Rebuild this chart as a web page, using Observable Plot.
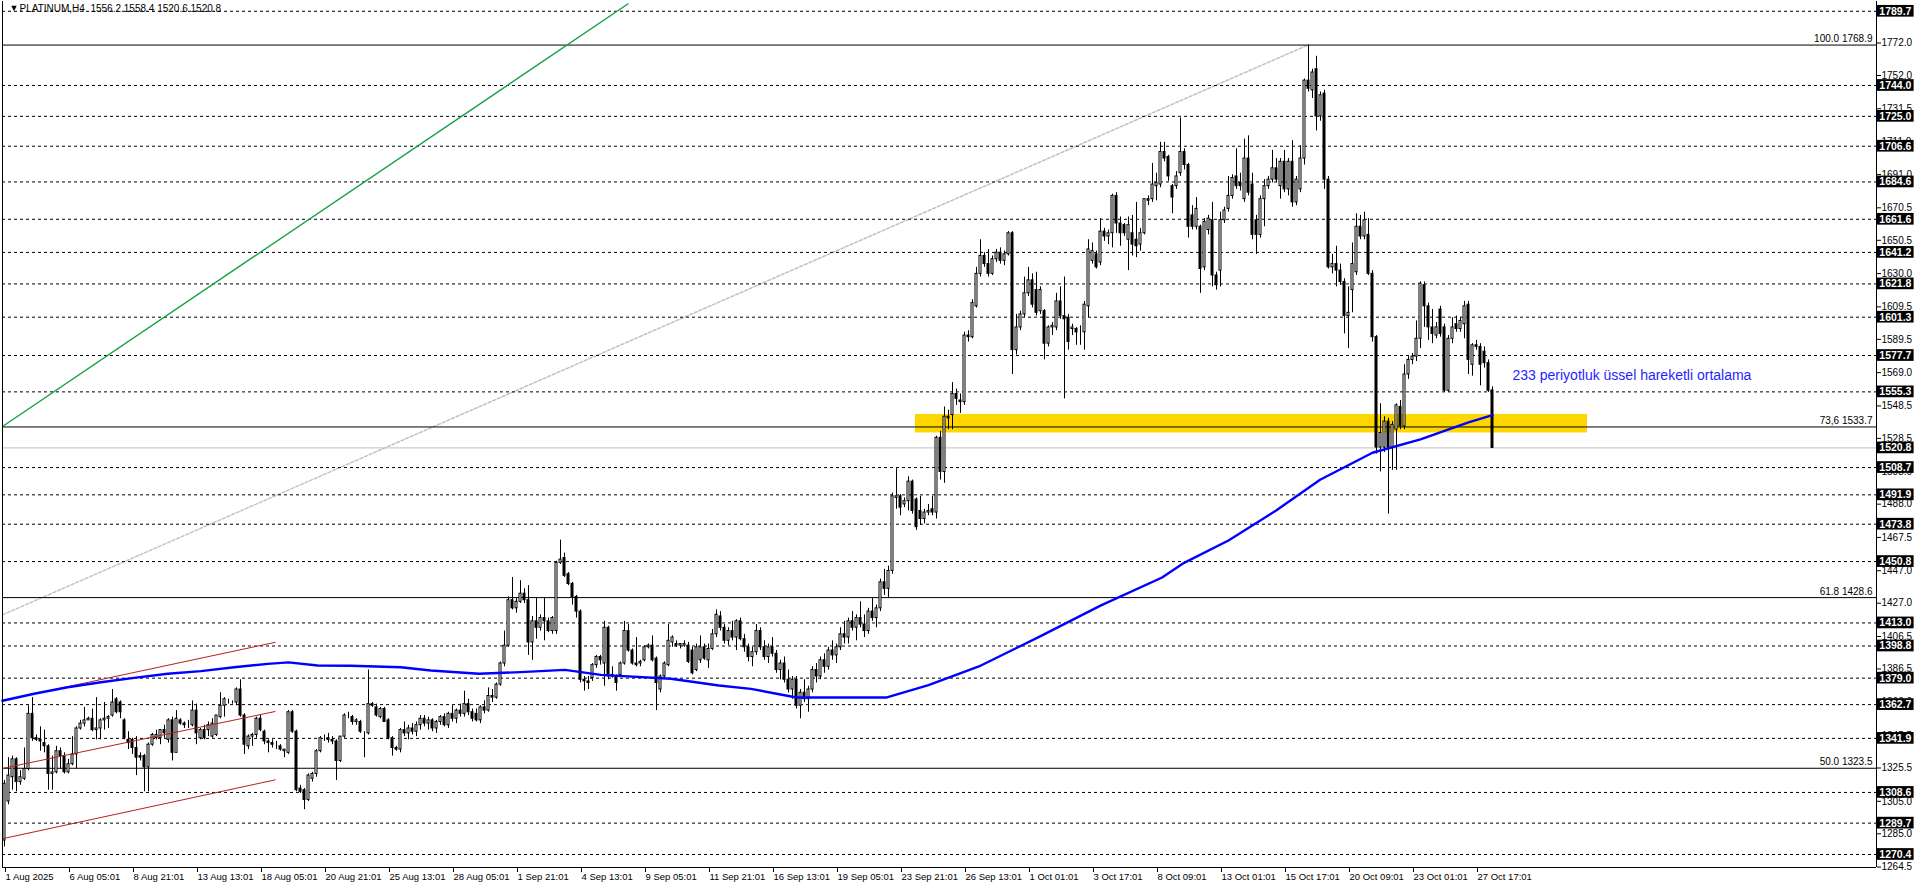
<!DOCTYPE html>
<html><head><meta charset="utf-8">
<script src="https://cdn.jsdelivr.net/npm/d3@7"></script>
<script src="https://cdn.jsdelivr.net/npm/@observablehq/plot@0.6"></script>
<style>html,body{margin:0;padding:0;background:#fff;overflow:hidden}</style>
</head><body><div id="chart"></div>
<script>
// H4 candles [open, high, low, close], bar index = position in the concatenated list
const candlesAug = [
[1279,1316,1275,1314],[1303,1330,1301,1319],[1318,1331,1310,1329],[1329,1330,1309,1315],[1315,1322,1313,1318],
[1317,1336,1316,1323],[1323,1362,1322,1357],[1357,1367,1340,1342],[1342,1344,1340,1341],[1341,1349,1334,1340],
[1339,1347,1333,1337],[1337,1338,1310,1320],[1320,1331,1310,1321],[1321,1337,1320,1334],[1334,1336,1323,1331],
[1331,1333,1320,1321],[1321,1329,1320,1326],[1326,1343,1325,1332],[1332,1349,1323,1348],[1348,1353,1347,1351],
[1351,1361,1349,1353],[1353,1355,1353,1354],[1354,1360,1346,1347],[1347,1367,1341,1348],[1348,1354,1341,1353],
[1353,1364,1347,1354],[1354,1356,1348,1355],[1356,1372,1355,1364],[1366,1367,1357,1358],[1364,1365,1354,1358],
[1353,1354,1341,1342],[1341,1346,1335,1339],[1341,1342,1332,1336],[1336,1343,1319,1330],[1331,1333,1328,1330],
[1331,1332,1309,1324],[1324,1339,1309,1338],[1338,1345,1337,1344],[1342,1347,1341,1344],[1342,1347,1338,1347],
[1347,1350,1342,1345],[1341,1354,1339,1353],[1353,1355,1328,1333],[1333,1359,1333,1354],[1353,1354,1350,1351],
[1351,1352,1348,1350],[1350,1353,1348,1350],[1350,1365,1349,1359],[1359,1363,1338,1345],[1342,1348,1341,1347],
[1347,1350,1341,1342],[1347,1352,1343,1350],[1343,1354,1342,1351],[1344,1356,1343,1356],[1355,1370,1354,1362],
[1362,1367,1355,1366],[1364,1366,1363,1364],[1364,1365,1363,1364],[1364,1373,1362,1372],[1372,1378,1355,1356],
[1356,1357,1332,1338],[1337,1344,1335,1343],[1343,1345,1337,1344],[1344,1355,1342,1354],[1354,1356,1346,1347],
[1346,1347,1338,1340],[1340,1341,1333,1339],[1339,1341,1336,1338],[1338,1340,1335,1338],[1337,1338,1334,1335],
[1334,1335,1330,1335],[1333,1359,1332,1358],[1358,1359,1345,1346],[1346,1347,1309,1310],[1311,1313,1308,1309],
[1310,1311,1298,1304],[1304,1320,1303,1319],[1317,1321,1315,1320],[1320,1335,1318,1334],[1334,1343,1333,1342],
[1342,1344,1340,1342],[1342,1345,1339,1341],[1341,1343,1338,1340],[1340,1341,1316,1328],[1328,1343,1327,1343],
[1343,1357,1342,1356],[1356,1358,1354,1356],[1355,1356,1350,1352],[1352,1354,1350,1353],[1352,1353,1345,1346],
[1345,1346,1330,1345],[1345,1384,1344,1363],[1363,1364,1361,1362],[1361,1363,1355,1356],[1355,1361,1354,1360],
[1360,1361,1352,1352],[1353,1354,1341,1342],[1342,1343,1331,1336],[1336,1337,1334,1335],[1335,1348,1333,1347]
];
const candlesLateAug = [
[1347,1352,1343,1345],[1345,1350,1341,1348],[1348,1351,1344,1346],[1346,1352,1343,1350],[1350,1356,1347,1354],
[1354,1356,1349,1351],[1351,1355,1347,1353],[1353,1354,1346,1348],[1348,1353,1345,1352],[1352,1356,1350,1355],
[1355,1357,1349,1350],[1350,1358,1348,1357],[1357,1362,1352,1354],[1354,1360,1351,1359],[1359,1363,1355,1357],
[1357,1371,1355,1363],[1363,1366,1356,1358],[1358,1360,1352,1354],[1357,1360,1352,1353],[1353,1362,1351,1361],
[1361,1365,1357,1359],[1359,1373,1358,1368],[1368,1372,1364,1367],[1367,1376,1366,1375],[1375,1389,1374,1388],
[1388,1408,1386,1399],[1399,1429,1398,1427],[1427,1441,1421,1422],[1422,1428,1419,1426],[1426,1439,1425,1431],
[1431,1434,1425,1427],[1427,1436,1393,1401],[1401,1417,1390,1414],[1414,1428,1403,1410],[1410,1418,1408,1416],
[1416,1428,1402,1414],[1414,1416,1407,1408],[1408,1417,1406,1416],[1408,1451,1406,1450],[1450,1464,1449,1452],
[1453,1456,1441,1442],[1443,1444,1436,1437],[1437,1438,1424,1429],[1429,1430,1416,1420],[1420,1421,1376,1378],
[1378,1380,1371,1377],[1377,1380,1372,1376],[1379,1388,1377,1387],[1387,1393,1385,1392],[1392,1393,1387,1390],
[1388,1414,1374,1410],[1410,1411,1378,1380],[1381,1386,1379,1380],[1380,1381,1371,1376],[1381,1389,1380,1388],
[1388,1414,1387,1408],[1408,1412,1395,1396],[1396,1397,1387,1388],[1388,1404,1386,1387],[1388,1390,1386,1389],
[1390,1399,1389,1398],[1398,1400,1397,1399],[1399,1405,1389,1390],[1391,1392,1359,1376],[1372,1381,1370,1380],
[1380,1389,1379,1388],[1387,1412,1386,1402],[1401,1405,1398,1404],[1400,1402,1398,1399],[1399,1400,1397,1400],
[1399,1402,1398,1400],[1399,1401,1388,1389],[1396,1398,1381,1382],[1384,1400,1383,1398],[1390,1405,1388,1398],
[1398,1400,1390,1391],[1390,1400,1385,1397],[1397,1409,1396,1406],[1406,1421,1404,1418],[1417,1420,1408,1410],
[1410,1412,1400,1402],[1402,1410,1399,1408],[1408,1414,1402,1404],[1404,1415,1396,1414],[1414,1416,1402,1403],
[1403,1406,1395,1398],[1398,1400,1389,1392],[1392,1398,1386,1395],[1395,1412,1393,1408],[1408,1410,1396,1398],
[1398,1402,1390,1392],[1392,1400,1388,1398],[1398,1404,1392,1394],[1394,1396,1382,1384],[1384,1390,1378,1388],
[1388,1392,1376,1378],[1378,1384,1370,1372],[1372,1380,1366,1378],[1378,1380,1360,1362],[1362,1372,1354,1370]
];
const candlesSep = [
[1370,1378,1364,1366],[1366,1374,1358,1372],[1372,1386,1370,1384],[1384,1388,1376,1380],[1380,1392,1378,1390],
[1390,1394,1382,1386],[1386,1398,1384,1396],[1396,1402,1390,1393],[1393,1400,1388,1398],[1398,1410,1396,1406],
[1406,1414,1400,1404],[1404,1416,1400,1414],[1414,1420,1408,1410],[1410,1418,1402,1416],[1416,1426,1410,1412],
[1412,1418,1404,1408],[1408,1422,1406,1420],[1420,1428,1414,1416],[1416,1424,1410,1422],[1422,1440,1420,1438],
[1438,1446,1430,1434],[1434,1448,1428,1445],[1445,1493,1443,1491],[1490,1508,1483,1491],[1491,1492,1479,1484],
[1486,1490,1484,1488],[1488,1503,1482,1500],[1500,1501,1480,1482],[1489,1490,1470,1472],[1482,1491,1473,1477],
[1477,1483,1474,1481],[1481,1486,1479,1482],[1483,1491,1479,1481],[1481,1528,1477,1527],[1527,1531,1501,1506],
[1506,1546,1499,1540],[1540,1544,1532,1539],[1541,1561,1532,1554],[1554,1557,1547,1551],[1550,1554,1542,1549],
[1549,1592,1547,1590],[1590,1593,1586,1589],[1589,1612,1588,1610],[1608,1632,1607,1628],[1628,1649,1626,1639],
[1639,1641,1632,1634],[1634,1643,1626,1628],[1628,1639,1627,1637],[1637,1643,1635,1641],[1641,1644,1634,1636],
[1636,1642,1633,1640],[1640,1654,1639,1653],[1653,1654,1566,1581],[1581,1603,1578,1595],[1595,1605,1593,1603],
[1603,1626,1601,1616],[1616,1632,1614,1624],[1624,1628,1607,1609],[1618,1629,1602,1604],[1605,1620,1603,1618],
[1605,1606,1575,1585],[1585,1596,1583,1595],[1595,1598,1590,1596],[1595,1616,1593,1611],[1611,1620,1600,1602],
[1602,1626,1551,1600],[1601,1603,1581,1586],[1594,1597,1590,1595],[1594,1595,1584,1592],[1592,1596,1584,1592],
[1592,1611,1581,1609],[1608,1649,1601,1643],[1636,1647,1634,1642],[1640,1642,1631,1632],[1635,1662,1633,1654],
[1654,1656,1648,1651],[1651,1655,1646,1653],[1653,1677,1644,1676],[1676,1678,1653,1659],[1659,1663,1645,1653],
[1658,1659,1651,1653],[1649,1663,1630,1658],[1653,1664,1639,1646],[1649,1672,1638,1645],[1646,1656,1642,1653],
[1653,1674,1652,1674],[1674,1676,1670,1673],[1674,1696,1672,1683],[1682,1690,1673,1684],[1683,1709,1681,1703],
[1703,1709,1697,1699],[1700,1701,1685,1688],[1682,1683,1665,1675],[1682,1691,1680,1688],[1690,1724,1688,1703],
[1703,1705,1692,1695],[1695,1696,1650,1657],[1664,1670,1655,1657],[1657,1675,1655,1668],[1657,1658,1616,1631]
];
const candlesOct = [
[1632,1662,1630,1660],[1655,1664,1652,1662],[1661,1672,1620,1627],[1627,1629,1618,1621],[1630,1666,1620,1661],
[1661,1669,1659,1667],[1668,1688,1666,1676],[1676,1689,1674,1687],[1688,1705,1680,1682],[1684,1690,1679,1682],
[1674,1711,1672,1699],[1699,1713,1676,1678],[1683,1690,1649,1652],[1661,1664,1640,1652],[1652,1676,1650,1674],
[1674,1686,1657,1682],[1682,1688,1680,1686],[1686,1704,1684,1693],[1693,1699,1684,1686],[1682,1699,1674,1697],
[1697,1704,1678,1680],[1680,1699,1676,1697],[1697,1710,1669,1672],[1672,1688,1670,1686],[1680,1707,1678,1699],
[1699,1748,1695,1747],[1747,1769,1740,1742],[1741,1754,1736,1752],[1754,1762,1716,1725],[1725,1740,1722,1738],
[1739,1741,1680,1686],[1686,1688,1631,1632],[1632,1640,1628,1634],[1634,1645,1620,1630],[1630,1634,1621,1623],
[1623,1625,1591,1602],[1602,1620,1582,1604],[1618,1647,1604,1634],[1629,1665,1627,1657],[1657,1664,1649,1651],
[1651,1666,1649,1661],[1652,1662,1627,1628],[1628,1630,1586,1589],[1589,1590,1517,1521],[1521,1548,1506,1530],
[1521,1540,1518,1537],[1537,1539,1480,1521],[1521,1537,1507,1535],[1532,1548,1507,1547],[1546,1550,1532,1534],
[1534,1572,1532,1566],[1566,1577,1563,1575],[1575,1579,1572,1577],[1577,1599,1574,1588],[1588,1623,1582,1622],
[1621,1623,1595,1608],[1608,1610,1587,1595],[1595,1606,1585,1591],[1590,1598,1588,1595],[1606,1608,1589,1591],
[1595,1597,1555,1556],[1556,1590,1555,1588],[1588,1601,1585,1595],[1597,1602,1592,1594],[1594,1601,1592,1599],
[1597,1611,1588,1608],[1609,1611,1566,1575],[1572,1585,1565,1584],[1584,1587,1581,1583],[1583,1585,1559,1572],
[1580,1583,1570,1573],[1573,1575,1555,1556],[1556.2,1558.4,1520.6,1520.8]
];

// x axis (bar index of each label)
const tickBars = [0,16,32,48,64,80,96,112,128,144,160,176,192,208,224,240,256,272,288,304,320,336,352,368];
const tickLabels = ["1 Aug 2025","6 Aug 05:01","8 Aug 21:01","13 Aug 13:01","18 Aug 05:01","20 Aug 21:01","25 Aug 13:01","28 Aug 05:01","1 Sep 21:01","4 Sep 13:01","9 Sep 05:01","11 Sep 21:01","16 Sep 13:01","19 Sep 05:01","23 Sep 21:01","26 Sep 13:01","1 Oct 01:01","3 Oct 17:01","8 Oct 09:01","13 Oct 01:01","15 Oct 17:01","20 Oct 09:01","23 Oct 01:01","27 Oct 17:01"];

// price axis
const axisLevels = [1772.0,1752.0,1731.5,1711.0,1691.0,1670.5,1650.5,1630.0,1609.5,1589.5,1569.0,1548.5,1528.5,1508.0,1488.0,1467.5,1447.0,1427.0,1406.5,1386.5,1366.0,1345.5,1325.5,1305.0,1285.0,1264.5];
const dashedLevels = [1789.7,1744.0,1725.0,1706.6,1684.6,1661.6,1641.2,1621.8,1601.3,1577.7,1555.3,1508.7,1491.9,1473.8,1450.8,1413.0,1398.8,1379.0,1362.7,1341.9,1308.6,1289.7,1270.4];
const bidPrice = 1520.8;
const fibLevels = [1768.9,1533.7,1428.6,1323.5];
const fibLabels = ["100.0 1768.9","73,6 1533.7","61.8 1428.6","50.0 1323.5"];

// 233 EMA
const maBars = [-0.5,7.4,15.8,24.1,32.4,40.8,49.1,57.4,65.8,71,78.3,86.6,99.1,106.6,118.6,129,140.1,149.1,166.6,178.6,186.6,198,220.6,231,243.6,258.9,274,289.4,294.9,306,318,328.9,342,354,366,372];
const maValues = [1365.1,1369.4,1373.4,1376.5,1379.2,1381.7,1383.3,1385.7,1387.8,1388.7,1386.8,1386.6,1385.7,1383.7,1381.7,1382.7,1384.1,1381,1378.6,1374.5,1372.4,1367.1,1367.1,1374.7,1386.2,1404.7,1423.7,1441,1450,1463.8,1482.4,1501.2,1517.8,1526.1,1536.5,1541];

// drawn objects
const channelBars = [-0.5, 67.75];
const channelUpper = [1365.2, 1401.1];
const channelMiddle = [1323.4, 1358.5];
const channelLower = [1280.1, 1316.4];
const greenBars = [-0.5, 156];
const greenPrices = [1534, 1794.5];
const fibTrendBars = [-0.5, 325.85];
const fibTrendPrices = [1418, 1768.9];
const zoneBars = [227.75, 395.75];
const zonePrices = [1530.0, 1541.4];
const noteText = "233 periyotluk üssel hareketli ortalama";
const noteBar = 377, notePrice = 1565.4;
const titleText = "PLATINUM,H4  1556.2 1558.4 1520.6 1520.8";

const candles = [...candlesAug, ...candlesLateAug, ...candlesSep, ...candlesOct]
  .map(([o, h, l, c], i) => ({i, o, h, l, c}));
const ma = maBars.map((b, k) => ({b, v: maValues[k]}));
const lines = [channelUpper, channelMiddle, channelLower].map(p => ({x1: channelBars[0], x2: channelBars[1], y1: p[0], y2: p[1]}));
const highlights = [...dashedLevels, bidPrice];
const xDomain = [-0.5, 468];
const yDomain = [1262.38, 1795.73];
const boxL = 468.2, boxR = 477.4;

const chart = Plot.plot({
  width: 1916, height: 888,
  marginLeft: 2, marginRight: 40, marginTop: 1, marginBottom: 21,
  x: {type: "linear", domain: xDomain, axis: null},
  y: {type: "linear", domain: yDomain, axis: null},
  style: {fontFamily: '"Liberation Sans", Arial, sans-serif', fontSize: "10px", background: "white", overflow: "visible"},
  marks: [
    Plot.rect([0], {x1: () => zoneBars[0], x2: () => zoneBars[1], y1: () => zonePrices[0], y2: () => zonePrices[1], fill: "#FFD700", clip: true}),
    Plot.line(fibTrendBars.map((b, k) => ({b, v: fibTrendPrices[k]})), {x: "b", y: "v", stroke: "#c0c0c0", strokeDasharray: "3,2", clip: true}),
    Plot.ruleY(dashedLevels, {stroke: "black", strokeDasharray: "3,3"}),
    Plot.ruleY(fibLevels, {stroke: "black"}),
    Plot.ruleY([bidPrice], {stroke: "#c0c0c0"}),
    Plot.ruleX(candles, {x: "i", y1: d => Math.min(d.l, d.o, d.c), y2: d => Math.max(d.h, d.o, d.c), stroke: "black"}),
    Plot.rect(candles, {x1: d => d.i - 0.25, x2: d => d.i + 0.25, y1: "o", y2: "c", inset: 0,
      fill: d => d.c >= d.o ? "white" : "black", stroke: "black"}),
    Plot.link(lines, {x1: "x1", y1: "y1", x2: "x2", y2: "y2", stroke: "#B22222"}),
    Plot.link([0], {x1: () => greenBars[0], y1: () => greenPrices[0], x2: () => greenBars[1], y2: () => greenPrices[1], stroke: "#14a044", strokeWidth: 1.4, clip: true}),
    Plot.line(ma, {x: "b", y: "v", stroke: "#0000ff", strokeWidth: 2.4}),
    Plot.text([noteText], {x: () => noteBar, y: () => notePrice, text: d => d, textAnchor: "start", fill: "#1f1fff", fontSize: 14}),
    Plot.text(fibLevels.map((v, k) => ({v, t: fibLabels[k]})), {y: "v", text: "t", frameAnchor: "right", textAnchor: "end", dx: -4, dy: -6, fontSize: 10, fill: "black"}),
    Plot.text([titleText], {frameAnchor: "top-left", text: d => d, dx: 17, dy: 7, textAnchor: "start", lineAnchor: "middle", fontSize: 10, fill: "black"}),
    Plot.text(["▼"], {frameAnchor: "top-left", text: d => d, dx: 7, dy: 7, lineAnchor: "middle", fontSize: 9, fill: "black"}),
    Plot.ruleX([xDomain[0], xDomain[1]], {stroke: "black"}),
    Plot.ruleY([yDomain[0]], {stroke: "black"}),
    Plot.axisY(axisLevels, {anchor: "right", tickSize: 4, tickPadding: 1, tickFormat: d => d.toFixed(1), fontSize: 10, dy: 3, label: null}),
    Plot.rect(highlights, {x1: () => boxL, x2: () => boxR, y1: d => d - 3.6, y2: d => d + 3.6, fill: "black", inset: 0}),
    Plot.text(highlights, {x: () => boxL, y: d => d, text: d => d.toFixed(1), fill: "white", textAnchor: "start", dx: 2, fontSize: 10.5, fontWeight: "bold"}),
    Plot.axisX(tickBars, {anchor: "bottom", tickSize: 5, tickPadding: 1, tickFormat: d => tickLabels[tickBars.indexOf(d)], textAnchor: "start", dx: 1, fontSize: 9.5, label: null})
  ]
});
document.getElementById("chart").appendChild(chart);
</script>
</body></html>
